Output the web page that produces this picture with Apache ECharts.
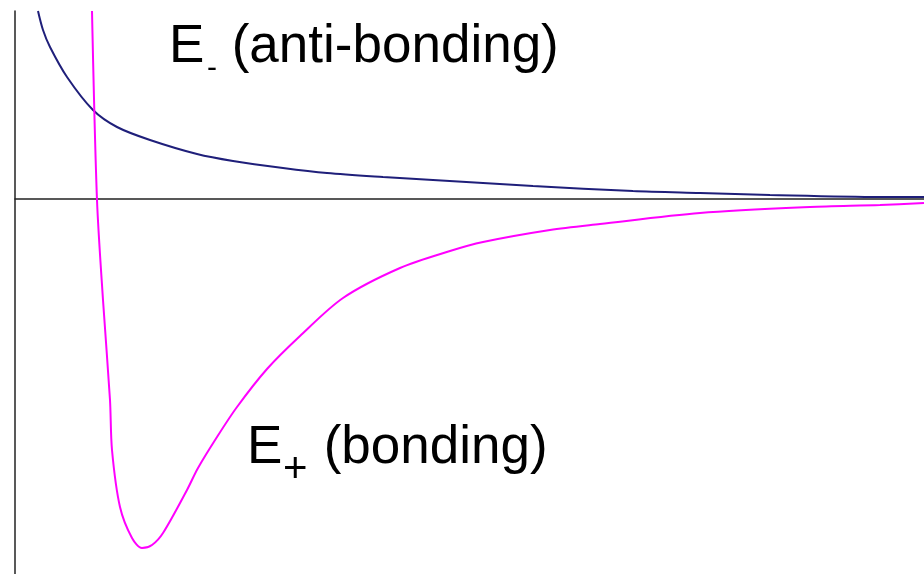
<!DOCTYPE html>
<html>
<head>
<meta charset="utf-8">
<script src="https://cdn.jsdelivr.net/npm/echarts@6/dist/echarts.min.js"></script>
<style>
  html, body { margin: 0; padding: 0; background: #fff; }
  #chart { width: 924px; height: 574px; }
</style>
</head>
<body>
<div id="chart"></div>
<script>
// separation (arbitrary units) and energy
const antiX = [0.23, 0.28, 0.35, 0.52, 0.78, 1.02, 1.35, 1.82, 2.18, 2.68, 3.12, 3.68, 4.18, 4.68, 5.18, 6.18, 6.85, 7.55, 8.65, 9.09];
const antiY = [1.88, 1.69, 1.52, 1.22, 0.89, 0.72, 0.59, 0.45, 0.38, 0.31, 0.26, 0.22, 0.19, 0.16, 0.13, 0.08, 0.06, 0.04, 0.02, 0.02];

const bondX = [0.77, 0.82, 0.88, 0.95, 0.97, 1.05, 1.17, 1.27, 1.37, 1.48, 1.72, 1.83, 2.02, 2.22, 2.52, 2.85, 3.28, 3.85, 4.35, 4.68, 5.35, 5.85, 6.85, 7.95, 8.65, 9.09];
const bondY = [1.88, -0.01, -1.01, -2.01, -2.51, -3.08, -3.39, -3.49, -3.46, -3.34, -2.91, -2.69, -2.38, -2.08, -1.70, -1.37, -0.99, -0.69, -0.52, -0.43, -0.31, -0.25, -0.14, -0.08, -0.06, -0.04];

const labelFont = '"Liberation Sans", Arial, sans-serif';

const chart = echarts.init(document.getElementById('chart'));

const zip = (xs, ys) => xs.map((x, i) => [x, ys[i]]);

const hidden = {
  axisTick: { show: false },
  axisLabel: { show: false },
  splitLine: { show: false }
};

chart.setOption({
  animation: false,
  backgroundColor: '#fff',
  grid: { left: 15, right: 0, top: 11, bottom: 0 },
  xAxis: {
    type: 'value',
    min: 0,
    max: 9.09,
    axisLine: { show: true, onZero: true, lineStyle: { color: '#222', width: 1.5 } },
    ...hidden
  },
  yAxis: {
    type: 'value',
    min: -3.75,
    max: 1.88,
    axisLine: { show: true, lineStyle: { color: '#222', width: 1.5 } },
    ...hidden
  },
  series: [
    {
      name: 'E- (anti-bonding)',
      type: 'line',
      data: zip(antiX, antiY),
      smooth: 0.3,
      showSymbol: false,
      lineStyle: { color: '#1f1f7a', width: 2 }
    },
    {
      name: 'E+ (bonding)',
      type: 'line',
      data: zip(bondX, bondY),
      smooth: 0.3,
      showSymbol: false,
      lineStyle: { color: '#ff00ff', width: 2 }
    }
  ],
  graphic: [
    { type: 'text', x: 169, y: 47, style: { text: 'E', font: '53px ' + labelFont, fill: '#000', verticalAlign: 'middle' } },
    { type: 'text', x: 207, y: 69, style: { text: '-', font: '30px ' + labelFont, fill: '#000', verticalAlign: 'middle' } },
    { type: 'text', x: 217, y: 47, style: { text: ' (anti-bonding)', font: '53px ' + labelFont, fill: '#000', verticalAlign: 'middle' } },

    { type: 'text', x: 247, y: 448, style: { text: 'E', font: '53px ' + labelFont, fill: '#000', verticalAlign: 'middle' } },
    { type: 'text', x: 283, y: 470, style: { text: '+', font: '42px ' + labelFont, fill: '#000', verticalAlign: 'middle' } },
    { type: 'text', x: 309, y: 448, style: { text: ' (bonding)', font: '53px ' + labelFont, fill: '#000', verticalAlign: 'middle' } }
  ]
});
</script>
</body>
</html>
